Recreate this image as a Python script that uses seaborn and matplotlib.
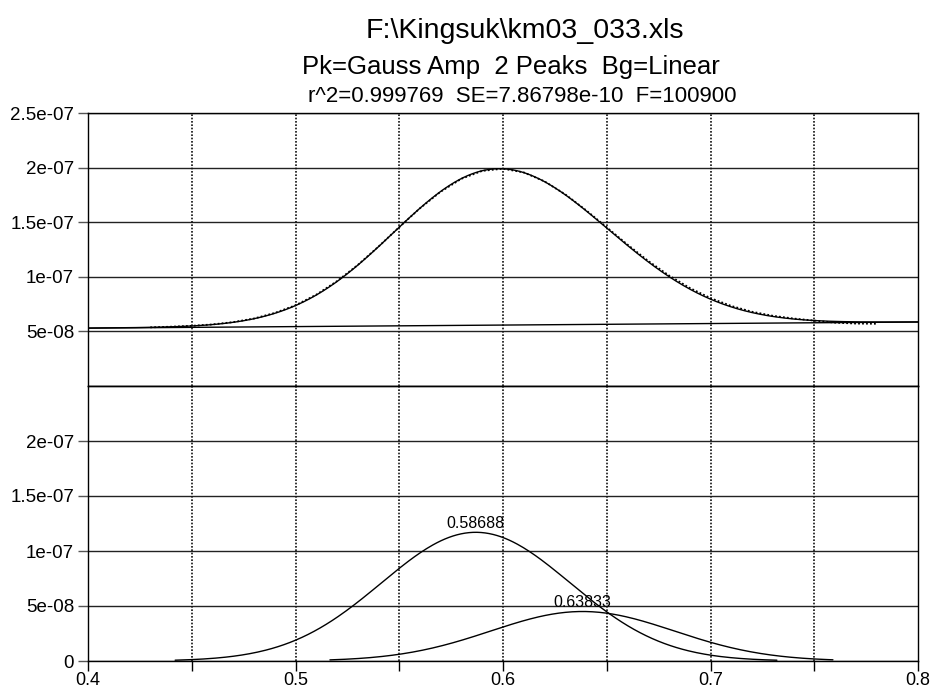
import numpy as np
import pandas as pd
import matplotlib
matplotlib.use("Agg")
import matplotlib.pyplot as plt
import seaborn as sns

# ---- fit results -------------------------------------------------------
peak_centers = [0.58688, 0.63833]
peak_amplitudes = [1.17e-07, 4.50e-08]
peak_widths = [0.0455, 0.0442]
peak_ranges = [(0.442, 0.732), (0.5166, 0.759)]
bg_intercept = 5.30e-08      # linear background value at x = 0.4
bg_slope = 1.40e-08          # per unit x

# ---- measured data (top panel, dotted) ---------------------------------
data_x = [0.43, 0.44, 0.45, 0.46, 0.47, 0.48, 0.49, 0.50, 0.51, 0.52,
          0.53, 0.54, 0.55, 0.56, 0.57, 0.58, 0.59, 0.60, 0.61, 0.62,
          0.63, 0.64, 0.65, 0.66, 0.67, 0.68, 0.69, 0.70, 0.71, 0.72,
          0.73, 0.74, 0.75, 0.76, 0.77, 0.78]
data_y = [5.37e-08, 5.43e-08, 5.51e-08, 5.64e-08, 5.85e-08, 6.18e-08,
          6.69e-08, 7.39e-08, 8.36e-08, 9.60e-08, 1.108e-07, 1.277e-07,
          1.455e-07, 1.628e-07, 1.780e-07, 1.898e-07, 1.970e-07, 1.990e-07,
          1.956e-07, 1.874e-07, 1.755e-07, 1.610e-07, 1.453e-07, 1.295e-07,
          1.145e-07, 1.012e-07, 8.98e-08, 8.05e-08, 7.33e-08, 6.80e-08,
          6.43e-08, 6.18e-08, 5.99e-08, 5.80e-08, 5.72e-08, 5.70e-08]

title_lines = ["F:\\Kingsuk\\km03_033.xls",
               "Pk=Gauss Amp  2 Peaks  Bg=Linear",
               "r^2=0.999769  SE=7.86798e-10  F=100900"]

x_min, x_max = 0.4, 0.8
y_max = 2.5e-07
y_ticks = [0, 5e-08, 1e-07, 1.5e-07, 2e-07, 2.5e-07]
y_tick_labels = ["0", "5e-08", "1e-07", "1.5e-07", "2e-07", "2.5e-07"]
x_ticks = [0.4, 0.5, 0.6, 0.7, 0.8]
x_tick_labels = ["0.4", "0.5", "0.6", "0.7", "0.8"]
x_minor = [0.45, 0.55, 0.65, 0.75]


def gauss(x, a, c, w):
    return a * np.exp(-0.5 * ((x - c) / w) ** 2)


def background(x):
    return bg_intercept + bg_slope * (np.asarray(x) - 0.4)


sns.set_theme(style="white")
plt.rcParams["font.family"] = ["Liberation Sans", "DejaVu Sans"]
plt.rcParams["text.color"] = "black"
plt.rcParams["xtick.color"] = "black"
plt.rcParams["ytick.color"] = "black"

fig = plt.figure(figsize=(9.34, 6.88), dpi=100)
W, H = 934, 688
left, right = 88 / W, 918 / W
ax_top = fig.add_axes([left, 1 - 386 / H, right - left, (386 - 113) / H])
ax_bot = fig.add_axes([left, 1 - 661 / H, right - left, (661 - 386) / H])

# model evaluated on a fine grid
xs = np.linspace(x_min, x_max, 801)
fit_total = background(xs) + sum(
    gauss(xs, a, c, w) for a, c, w in zip(peak_amplitudes, peak_centers, peak_widths))

fit_df = pd.DataFrame({"x": xs, "fit": fit_total, "bg": background(xs)})
data_df = pd.DataFrame({"x": data_x, "y": data_y})

# top panel: data, overall fit, background
sns.lineplot(data=fit_df, x="x", y="bg", ax=ax_top, color="black", lw=1.0)
sns.lineplot(data=data_df, x="x", y="y", ax=ax_top, color="black", lw=1.3,
             linestyle=(0, (1, 1.2)))
sns.lineplot(data=fit_df, x="x", y="fit", ax=ax_top, color="black", lw=1.0)

# bottom panel: individual peaks
for a, c, w, (lo, hi) in zip(peak_amplitudes, peak_centers, peak_widths, peak_ranges):
    px = np.linspace(lo, hi, 300)
    pk_df = pd.DataFrame({"x": px, "y": gauss(px, a, c, w)})
    sns.lineplot(data=pk_df, x="x", y="y", ax=ax_bot, color="black", lw=1.0)
    ax_bot.text(c, a + 1.5e-09, f"{c:.5f}".rstrip("0"), ha="center", va="bottom",
                fontsize=11.5, color="black")

for ax in (ax_top, ax_bot):
    ax.set_xlim(x_min, x_max)
    ax.set_ylim(0, y_max)
    ax.set_xlabel("")
    ax.set_ylabel("")
    for v in y_ticks:
        ax.axhline(v, color="#222222", lw=1.0, zorder=0)
    for v in [0.45, 0.5, 0.55, 0.6, 0.65, 0.7, 0.75]:
        ax.axvline(v, color="#111111", lw=1.2, linestyle=(0, (1, 1)), zorder=0)
    for s in ax.spines.values():
        s.set_visible(True)
        s.set_color("black")
        s.set_linewidth(1.0)
    ax.tick_params(axis="y", which="both", left=True, length=7, width=1,
                   color="#555555", labelsize=13.5, pad=3, labelcolor="black")

# y tick labels
ax_top.set_yticks(y_ticks[1:])
ax_top.set_yticklabels(y_tick_labels[1:])
ax_bot.set_yticks(y_ticks[:-1])
ax_bot.set_yticklabels(y_tick_labels[:-1])

# x axis: labels only on the lower panel
ax_top.set_xticks([])
ax_bot.set_xticks(x_ticks)
ax_bot.set_xticklabels(x_tick_labels)
ax_bot.set_xticks(x_minor, minor=True)
ax_bot.tick_params(axis="x", which="both", bottom=True, length=7, width=1,
                   color="black", labelsize=13, pad=1)

# titles
fig.text(525 / W, 1 - 38 / H, title_lines[0], ha="center", va="baseline", fontsize=20.5)
fig.text(511 / W, 1 - 74 / H, title_lines[1], ha="center", va="baseline", fontsize=18.5)
fig.text(522 / W, 1 - 102 / H, title_lines[2], ha="center", va="baseline", fontsize=16)

fig.savefig("out.png", dpi=100, facecolor="white")
